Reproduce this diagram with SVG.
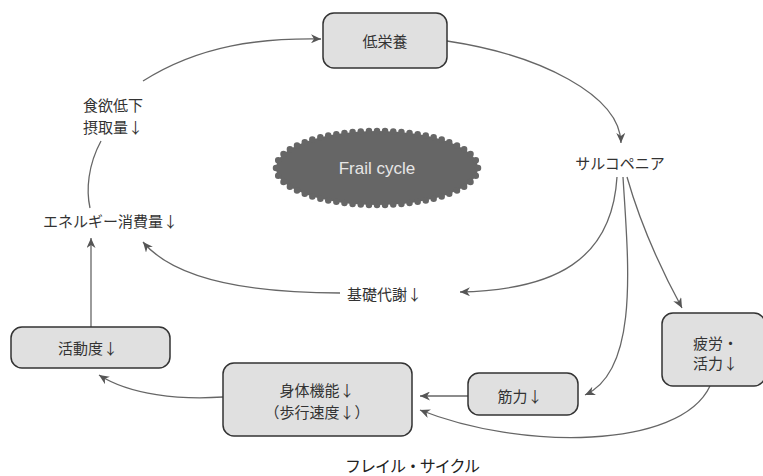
<svg xmlns="http://www.w3.org/2000/svg" width="763" height="476" viewBox="0 0 763 476">
<style>
  .box{fill:#e0e0e0;stroke:#333;stroke-width:1.5}
  .t{font-family:"Noto Sans CJK JP","Noto Sans",sans-serif;font-size:15px;fill:#333;dominant-baseline:central}
  .c{text-anchor:middle}
  .e{fill:none;stroke:#666;stroke-width:1.3}
</style>
<defs>
  <marker id="arr" markerUnits="userSpaceOnUse" markerWidth="11" markerHeight="9" refX="10" refY="4.5" orient="auto">
    <path d="M0,0 L10,4.5 L0,9 L3,4.5 z" fill="#555"/>
  </marker>
</defs>
<rect width="763" height="476" fill="#fff"/>

<g id="connectors">
  <path class="e" d="M143,81 C200,45 260,38 321,39" marker-end="url(#arr)"/>
  <path class="e" d="M447,41 C540,55 620,95 621,143" marker-end="url(#arr)"/>
  <path class="e" d="M101,141 C88,165 86,190 90,208"/>
  <path class="e" d="M91,327 L91,238" marker-end="url(#arr)"/>
  <path class="e" d="M340,293 C250,293 175,280 143,242" marker-end="url(#arr)"/>
  <path class="e" d="M617,177 C612,260 555,290 460,292" marker-end="url(#arr)"/>
  <path class="e" d="M623,177 C628,260 640,370 585,395" marker-end="url(#arr)"/>
  <path class="e" d="M627,177 Q645,240 682,308" marker-end="url(#arr)"/>
  <path class="e" d="M710,386 C680,450 520,450 420,410" marker-end="url(#arr)"/>
  <path class="e" d="M468,396 L420,396" marker-end="url(#arr)"/>
  <path class="e" d="M223,397 C180,400 130,395 99,375" marker-end="url(#arr)"/>
</g>

<g id="frail-cycle">
  <ellipse cx="377" cy="168" rx="101" ry="37" fill="#666"/>
  <ellipse cx="377" cy="168" rx="101" ry="37" fill="none" stroke="#666" stroke-width="6.5" stroke-linecap="round" pathLength="560" stroke-dasharray="0 10"/>
  <text class="t c" x="377" y="168" style="fill:#e6e6e6;font-size:17px;font-family:'Liberation Sans','Noto Sans',sans-serif">Frail cycle</text>
</g>

<g id="teieiyou">
  <rect class="box" x="323" y="13" width="124" height="55" rx="11"/>
  <text class="t c" x="385" y="40">低栄養</text>
</g>

<g id="sarcopenia">
  <text class="t c" x="620" y="162">サルコペニア</text>
</g>

<g id="shokuyoku">
  <text class="t" x="83" y="104">食欲低下</text>
  <text class="t" x="83" y="126">摂取量↓</text>
</g>

<g id="energy">
  <text class="t" x="43" y="220">エネルギー消費量↓</text>
</g>

<g id="kiso">
  <text class="t" x="347" y="293">基礎代謝↓</text>
</g>

<g id="katsudou">
  <rect class="box" x="11" y="327" width="159" height="41" rx="11"/>
  <text class="t c" x="88" y="347">活動度↓</text>
</g>

<g id="shintai">
  <rect class="box" x="223" y="363" width="189" height="73" rx="11"/>
  <text class="t c" x="317" y="389">身体機能↓</text>
  <text class="t c" x="317" y="411">（歩行速度↓）</text>
</g>

<g id="kinryoku">
  <rect class="box" x="468" y="373" width="110" height="42" rx="11"/>
  <text class="t c" x="520" y="395">筋力↓</text>
</g>

<g id="hirou">
  <rect class="box" x="662" y="313" width="103" height="73" rx="11"/>
  <text class="t" x="693" y="342">疲労・</text>
  <text class="t" x="693" y="362">活力↓</text>
</g>

<text class="t" x="345" y="465" textLength="135" style="font-size:16px;fill:#222">フレイル・サイクル</text>
</svg>
